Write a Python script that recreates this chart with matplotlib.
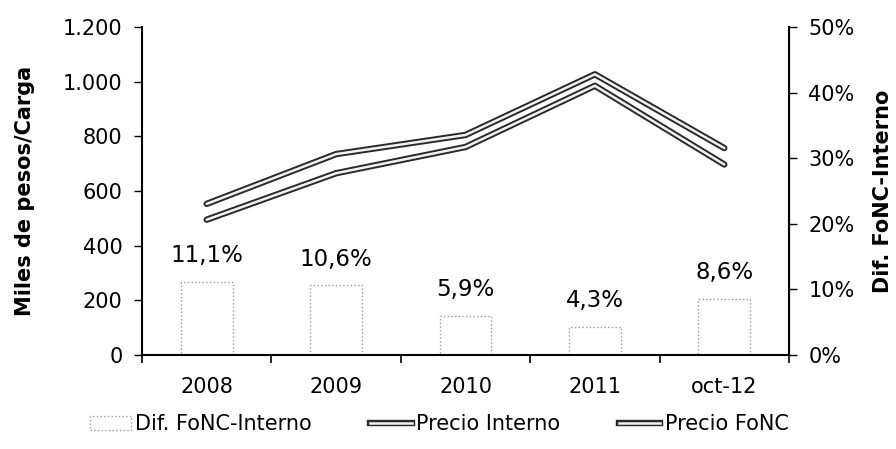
import numpy as np
import matplotlib
matplotlib.use("Agg")
import matplotlib.pyplot as plt
import matplotlib.patheffects as pe
from matplotlib.patches import Patch
from matplotlib.lines import Line2D
from matplotlib.ticker import FuncFormatter, FixedLocator

# data
categories = ["2008", "2009", "2010", "2011", "oct-12"]
precio_interno = [495, 665, 761, 985, 697]
precio_fonc = [553, 735, 805, 1027, 757]
dif_fonc_interno = [11.1, 10.6, 5.9, 4.3, 8.6]

plt.rcParams['font.family'] = ['DejaVu Sans']

fig = plt.figure(figsize=(8.96, 4.49), dpi=100)
ax = fig.add_axes([142/896, 1 - 355/449, (789-142)/896, (355-27)/449])
ax2 = ax.twinx()
ax.set_zorder(ax2.get_zorder() + 1)
ax.patch.set_visible(False)

x = np.arange(len(categories))

# bars on the right axis (dotted outline)
bars = ax2.bar(x, dif_fonc_interno, width=0.4, facecolor='none',
               edgecolor='#9a9a9a', linestyle=':', linewidth=1.0)
for xi, v in zip(x, dif_fonc_interno):
    ax2.annotate(("%.1f%%" % v).replace('.', ','), (xi, v),
                 xytext=(0, 19), textcoords='offset points',
                 ha='center', va='center', fontsize=16.5)

# double lines
outline = [pe.Stroke(linewidth=4.6, foreground='#2a2a2a'), pe.Normal()]
ax.plot(x, precio_interno, color='#f2f2f2', lw=1.8, solid_capstyle='round',
        path_effects=outline)
ax.plot(x, precio_fonc, color='#f2f2f2', lw=1.8, solid_capstyle='round',
        path_effects=outline)

ax.set_xlim(-0.5, len(categories) - 0.5)
ax.set_ylim(0, 1200)
ax2.set_ylim(0, 50)

ax.set_yticks(np.arange(0, 1201, 200))
ax.yaxis.set_major_formatter(FuncFormatter(lambda v, p: "{:,.0f}".format(v).replace(',', '.')))
ax2.set_yticks(np.arange(0, 51, 10))
ax2.yaxis.set_major_formatter(FuncFormatter(lambda v, p: "%d%%" % v))

ax.set_xticks(x)
ax.set_xticklabels(categories)
ax.xaxis.set_minor_locator(FixedLocator(np.arange(-0.5, len(categories), 1.0)))
ax.tick_params(axis='x', which='major', length=0, pad=16, labelsize=15)
ax.tick_params(axis='x', which='minor', length=6, width=1.2, direction='out')
ax.tick_params(axis='y', length=6, width=1.0, direction='out', labelsize=15, pad=8)
ax2.tick_params(axis='y', length=6, width=1.0, direction='out', labelsize=15, pad=8)

for a in (ax, ax2):
    a.spines['top'].set_visible(False)
ax.spines['left'].set_linewidth(1.5)
ax.spines['bottom'].set_linewidth(1.5)
ax2.spines['right'].set_linewidth(1.5)
ax2.spines['left'].set_visible(False)
ax2.spines['bottom'].set_visible(False)

ax.set_ylabel("Miles de pesos/Carga", fontsize=15, fontweight='bold', labelpad=20)
ax2.set_ylabel("Dif. FoNC-Interno", fontsize=15, fontweight='bold', labelpad=13)

handles = [
    Patch(facecolor='none', edgecolor='#9a9a9a', linestyle=':', linewidth=1.0),
    Line2D([], [], color='#f2f2f2', lw=1.8, path_effects=outline),
    Line2D([], [], color='#f2f2f2', lw=1.8, path_effects=outline),
]
labels = ["Dif. FoNC-Interno", "Precio Interno", "Precio FoNC"]
fig.legend(handles, labels, loc='center', bbox_to_anchor=(0.49, 0.055), ncol=3,
           frameon=False, fontsize=15, columnspacing=2.8, handlelength=2.0,
           handletextpad=0.2)

fig.savefig("out.png", dpi=100)
